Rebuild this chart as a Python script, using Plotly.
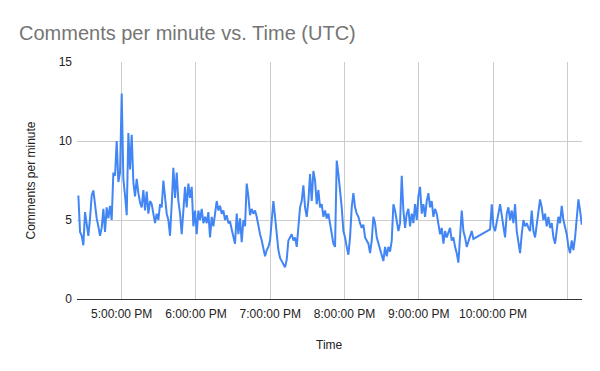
import datetime as dt
import plotly.graph_objects as go

# Comments per minute, sampled every ~80.8 s from 4:25 PM (None = missing samples)
START = dt.datetime(2021, 1, 1, 16, 25, 0)
STEP_SECONDS = 80.8

seg_1 = [6.55, 4.24, 4.0, 3.4, 5.5, 4.6, 4.0, 5.1, 6.55, 6.87, 5.9, 5.1, 4.6, 4.0, 4.5, 5.7,
         4.25, 5.8, 5.1, 5.9, 5.0, 8.0, 7.8, 10.0, 7.4, 8.0, 13.0, 7.6, 6.55, 5.3, 10.5, 8.2,
         10.4, 7.4, 6.5, 7.6, 6.7, 6.1]
seg_2 = [5.8, 6.9, 5.6, 6.8, 5.4, 6.2, 6.0, 5.4, 4.8, 5.4, 5.0, 6.0, 5.8, 7.5, 6.2, 5.4,
         5.0, 4.0, 6.0, 8.3, 6.4, 8.0, 6.2, 5.4, 4.1, 5.8, 7.1, 5.8, 7.3, 6.4, 7.1, 4.6,
         5.6, 4.1, 5.6, 5.0, 5.7, 4.8]
seg_3 = [5.2, 4.8, 5.5, 3.9, 5.2, 4.6, 5.6, 6.2, 5.6, 5.9, 5.4, 5.6, 5.0, 5.3, 4.8, 4.9,
         4.4, 4.0, 3.5, 5.4, 4.1, 5.1, 3.6, 5.0, 4.6, 7.3, 6.5, 5.3, 5.7, 5.4, 5.6, 5.2,
         4.6, 4.1, 3.7, 3.2, 2.7, 3.1, 3.3, 3.7]
seg_4 = [5.0, 6.2, 5.2, 3.9, 3.1, 2.6, 2.4, 2.2, 2.0, 2.5, 3.7, 3.9, 4.1, 3.7, 3.9, 3.3,
         4.6, 5.8, 6.2, 7.2, 5.8, 5.2, 6.2, 7.9, 6.2, 8.1, 7.5, 6.0, 6.9, 5.8, 6.0, 5.2,
         5.6, 5.1, 5.4, 4.8, 4.1, 3.5, 3.3]
seg_5 = [8.76, 7.9, 6.9, 5.8, 4.3, 3.9, 3.3, 2.8, 3.9, 5.8, 6.7, 5.8, 5.4, 5.2, 4.8, 4.5,
         4.7, 3.9, 3.7, 3.5, 2.9, 3.7, 5.2, 4.8, 3.9, 3.5, 3.2, 2.8, 2.4, 3.3, 2.7, 3.3,
         3.0, 3.7, 6.0, 5.6, 4.8, 4.3, 4.8]
seg_6 = [7.8, 5.6, 4.5, 5.4, 5.7, 4.6, 5.4, 4.8, 6.0, 5.0, 6.5, 7.1, 5.4, 6.0, 5.2, 6.2,
         6.7, 5.8, 6.2, 5.2, 5.7, 5.4, 4.8, 4.1, 4.5, 3.5, 4.3, 3.9, 4.2, 4.5, 3.7, 3.9,
         3.3, 2.9, 2.3, 3.9, 5.6, 4.3, 3.9]
seg_7 = [3.3, 3.6, 3.9, 4.3, 3.8]
missing = [None] * 9
seg_8 = [4.4, 6.0, 4.6, 4.3, 5.0, 5.4, 6.0, 5.2, 4.6, 3.9, 5.4, 5.8, 5.0, 5.6, 4.8, 6.0,
         4.3, 3.7, 2.9, 4.1, 5.0, 4.6, 4.8, 4.5, 4.3]
seg_9 = [5.6, 4.3, 3.9, 4.8, 5.4, 6.3, 5.8, 5.0, 5.4, 4.6, 5.2, 4.5, 4.8, 3.9, 3.5, 4.3,
         5.2, 4.8, 5.9, 5.0, 4.6, 4.1, 3.3, 2.9, 3.7, 3.1, 3.9, 5.4, 6.3, 5.6, 4.7]

values = seg_1 + seg_2 + seg_3 + seg_4 + seg_5 + seg_6 + seg_7 + missing + seg_8 + seg_9
times = [START + dt.timedelta(seconds=STEP_SECONDS * i) for i in range(len(values))]

tick_times = [dt.datetime(2021, 1, 1, h, 0, 0) for h in range(17, 24)]
tick_labels = ["5:00:00 PM", "6:00:00 PM", "7:00:00 PM", "8:00:00 PM",
               "9:00:00 PM", "10:00:00 PM", ""]
y_ticks = [0, 5, 10, 15]

x_range = [dt.datetime(2021, 1, 1, 16, 23, 54), dt.datetime(2021, 1, 1, 23, 11, 54)]

FONT = "Arial, Liberation Sans, sans-serif"

fig = go.Figure()
fig.add_trace(go.Scatter(
    x=times, y=values, mode="lines", connectgaps=True,
    line=dict(color="#4285F4", width=2), hoverinfo="skip", showlegend=False,
))

fig.update_layout(
    width=600, height=371,
    margin=dict(l=77, r=18, t=62, b=72),
    paper_bgcolor="white", plot_bgcolor="white",
    font=dict(family=FONT, size=12, color="#222222"),
    title=dict(text="Comments per minute vs. Time (UTC)", x=19 / 600, xanchor="left",
               xref="container", y=1 - 33 / 371, yanchor="middle", yref="container",
               font=dict(family=FONT, size=20, color="#757575")),
    xaxis=dict(type="date", range=x_range, tickvals=tick_times, ticktext=tick_labels,
               showgrid=True, gridcolor="#cccccc", gridwidth=1,
               showline=True, linecolor="#333333", linewidth=1,
               zeroline=False, ticks="", tickfont=dict(size=12, color="#222222"),
               ticklabelstandoff=4),
    yaxis=dict(range=[0, 15], tickvals=y_ticks, showgrid=True, gridcolor="#cccccc",
               gridwidth=1, zeroline=False, showline=False, ticks="",
               tickfont=dict(size=12, color="#222222"), ticklabelstandoff=4),
    annotations=[
        dict(text="Time", xref="paper", yref="paper", x=0.5, y=-(345 - 299) / 237,
             xanchor="center", yanchor="middle", showarrow=False,
             font=dict(size=12, color="#222222")),
        dict(text="Comments per minute", xref="paper", yref="paper",
             x=-(77 - 30) / 505, y=0.5, xanchor="center", yanchor="middle",
             textangle=-90, showarrow=False, font=dict(size=12, color="#222222")),
    ],
)

fig.write_html("out.html")
